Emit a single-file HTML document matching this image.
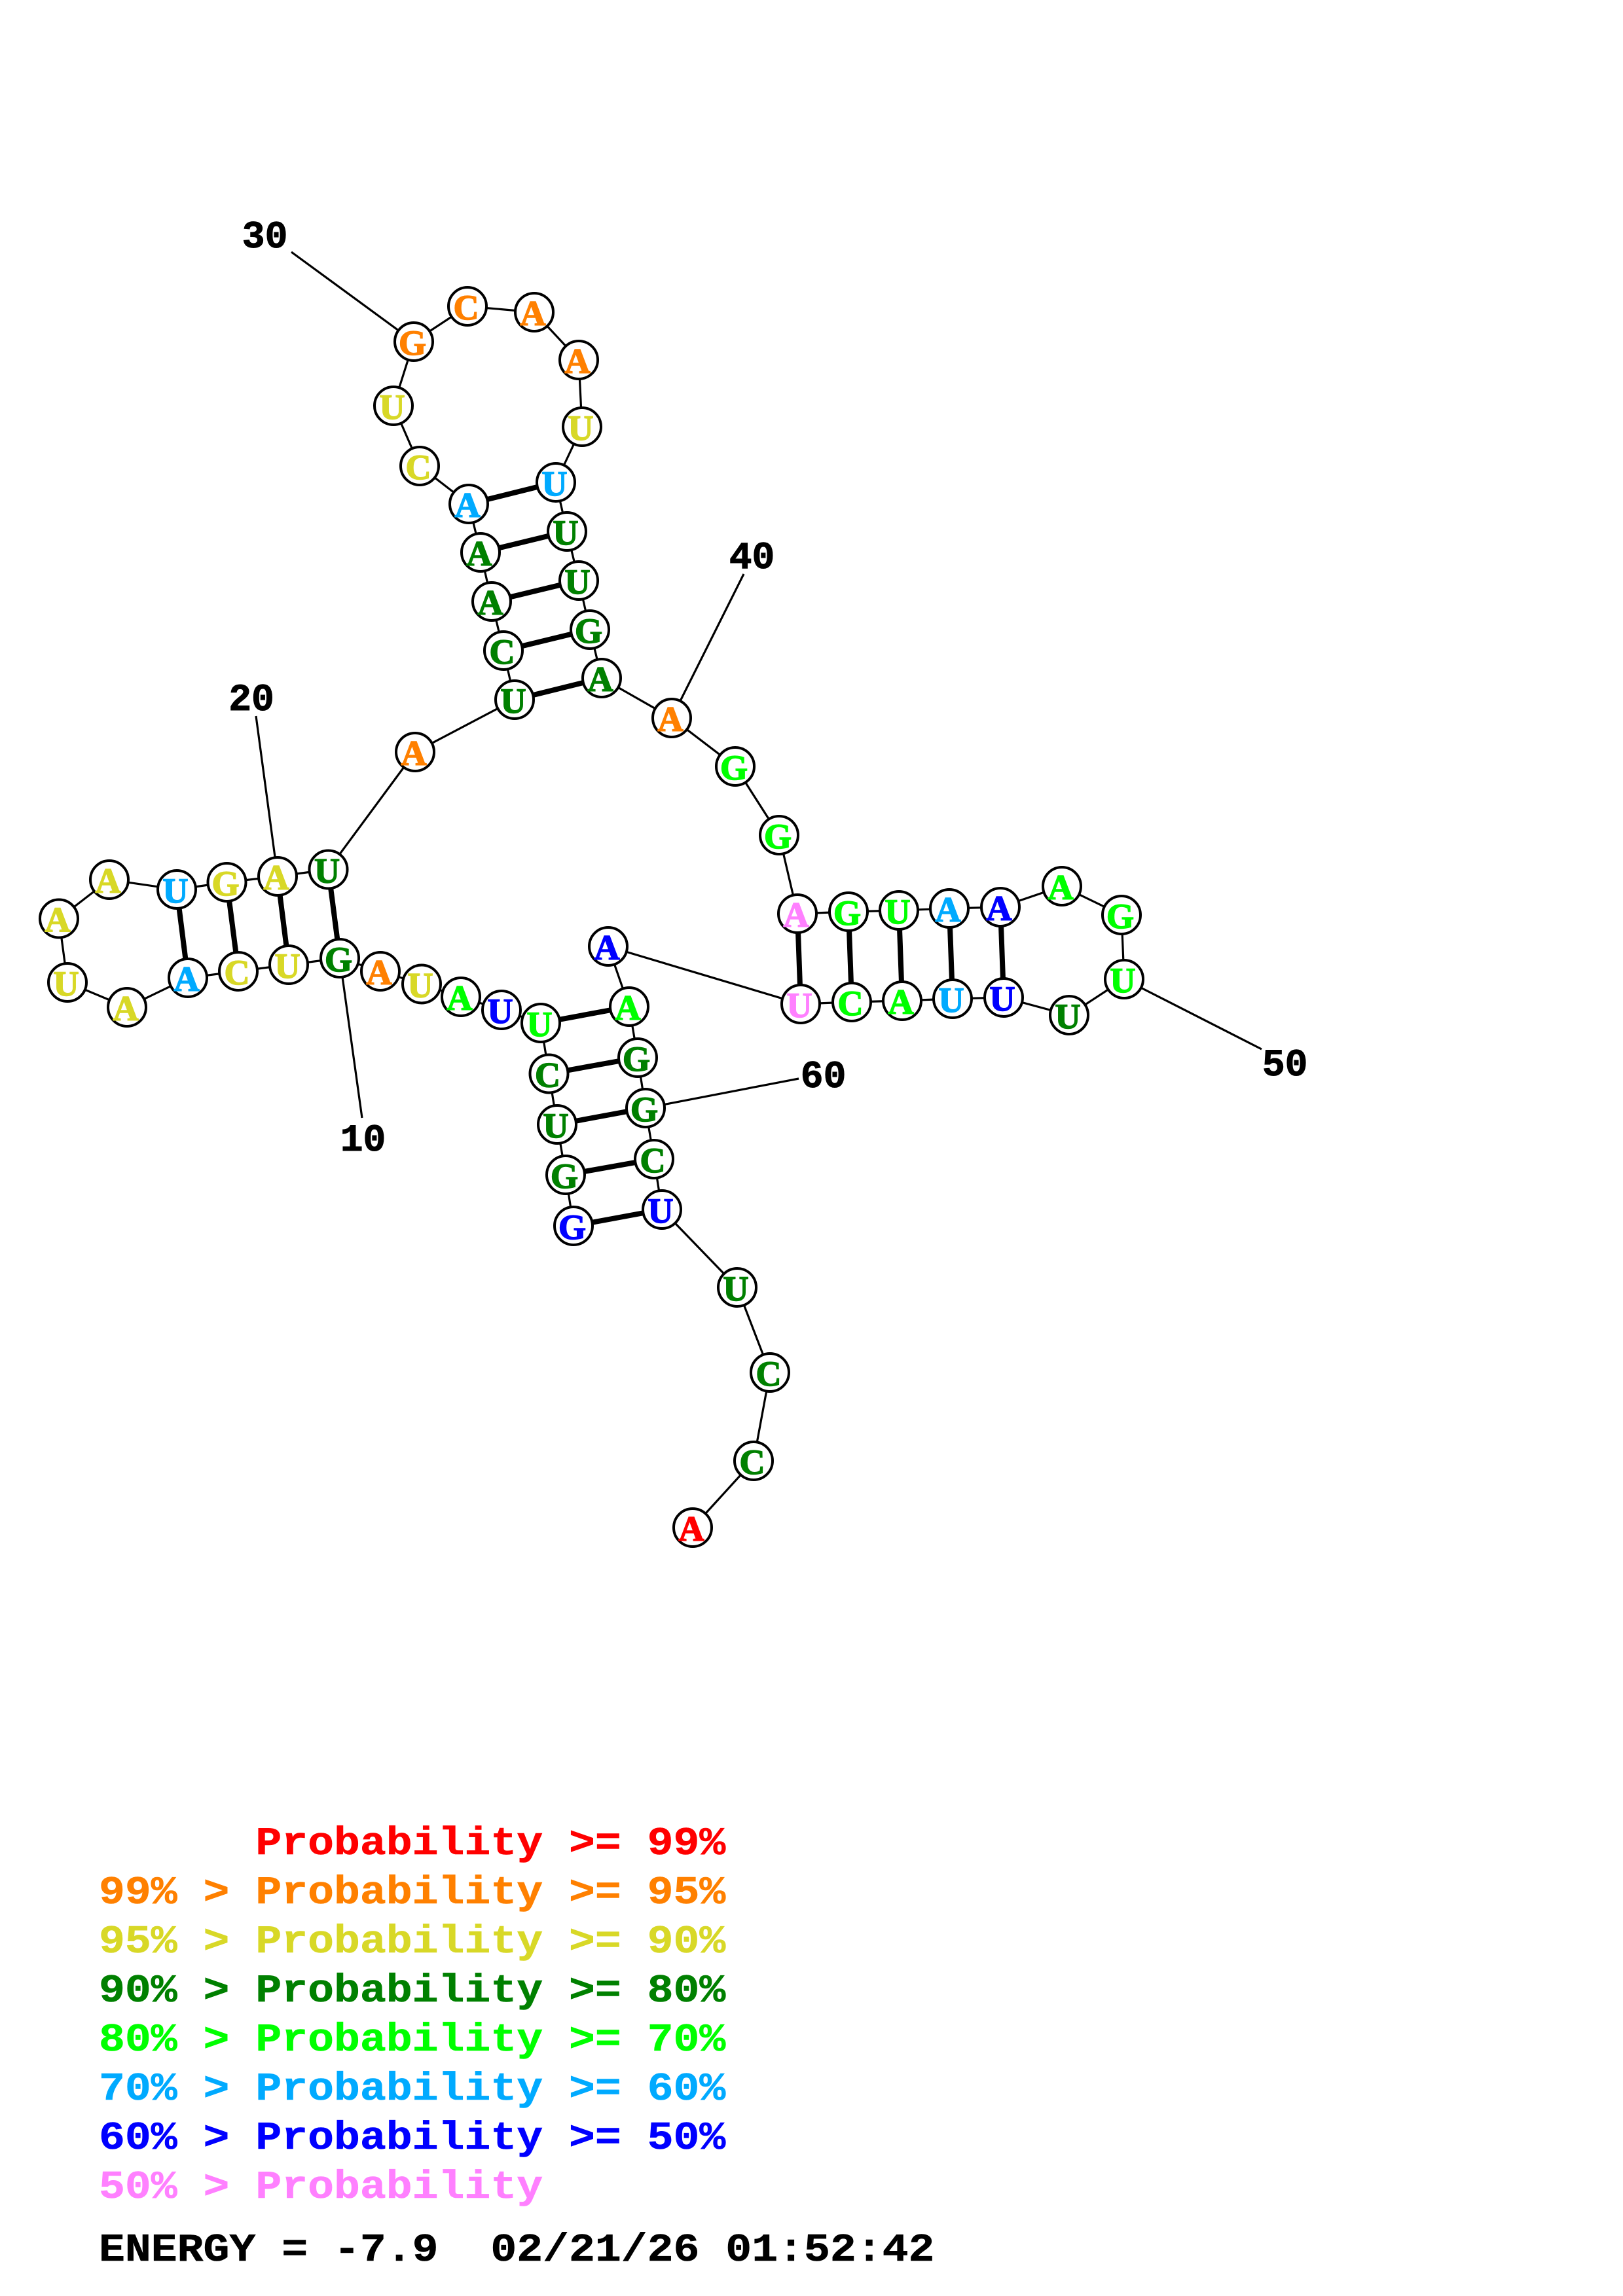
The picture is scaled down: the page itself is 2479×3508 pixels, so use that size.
<!DOCTYPE html>
<html><head><meta charset="utf-8"><title>RNA structure</title>
<style>
html,body{margin:0;padding:0;background:#fff;width:2479px;height:3508px;overflow:hidden}
svg{display:block}
.n text{font:bold 54px "Liberation Serif",serif;text-anchor:middle;stroke-width:1.6}
.l{font:bold 58px "Liberation Mono",monospace;text-anchor:middle;fill:#000;stroke:#000;stroke-width:1}
.g text{font:bold 60px "Liberation Mono",monospace;white-space:pre;stroke-width:.6}
.r{fill:#f00;stroke:#f00}.o{fill:#ff8000;stroke:#ff8000}.y{fill:#d8d827;stroke:#d8d827}.d{fill:#008000;stroke:#008000}.m{fill:#0f0;stroke:#0f0}.s{fill:#0af;stroke:#0af}.b{fill:#00f;stroke:#00f}.p{fill:#ff80ff;stroke:#ff80ff}.k{fill:#000;stroke:#000}
</style></head><body>
<svg xmlns="http://www.w3.org/2000/svg" width="2479" height="3508" viewBox="0 0 2479 3508">
<rect width="2479" height="3508" fill="#fff"/>
<polyline fill="none" stroke="#000" stroke-width="3.2" points="876,1873 864,1795 851,1718 838.5,1640.5 826,1563 766,1543 704,1523 644,1503.5 581,1484 519,1464 441,1474 364,1484 287,1494 194,1539 103,1501 90,1403.5 167,1344 270,1359 346.5,1348 424,1339 501.5,1328.5 634,1149 786,1069 769,994 751,919 734,844 716,770 641,712 601,620 632,522 714,468 816,477 884,550 889,652 849,737 866,812 884,887 901,962 919,1036 1026,1097 1123,1171 1190,1276 1218,1396 1296,1393 1373,1391 1450,1388 1528,1386 1622,1354 1713,1398 1717,1496 1633,1551 1533,1524 1455,1526 1378,1529 1301,1531 1223,1534 929,1446 961,1538 974,1616 986,1693 999,1771 1011,1848 1126,1967 1176,2097 1151,2232 1058,2334"/>
<g stroke="#000" stroke-width="3.2">
<line x1="445" y1="385" x2="632" y2="522"/>
<line x1="1136" y1="877" x2="1026" y2="1097"/>
<line x1="391" y1="1094" x2="424" y2="1339"/>
<line x1="553" y1="1708" x2="519" y2="1464"/>
<line x1="1927" y1="1603" x2="1717" y2="1496"/>
<line x1="1220" y1="1648" x2="986" y2="1693"/>
</g>
<g stroke="#000" stroke-width="8">
<line x1="716" y1="770" x2="849" y2="737"/>
<line x1="734" y1="844" x2="866" y2="812"/>
<line x1="751" y1="919" x2="884" y2="887"/>
<line x1="769" y1="994" x2="901" y2="962"/>
<line x1="786" y1="1069" x2="919" y2="1036"/>
<line x1="501.5" y1="1328.5" x2="519" y2="1464"/>
<line x1="424" y1="1339" x2="441" y2="1474"/>
<line x1="346.5" y1="1348" x2="364" y2="1484"/>
<line x1="270" y1="1359" x2="287" y2="1494"/>
<line x1="1218" y1="1396" x2="1223" y2="1534"/>
<line x1="1296" y1="1393" x2="1301" y2="1531"/>
<line x1="1373" y1="1391" x2="1378" y2="1529"/>
<line x1="1450" y1="1388" x2="1455" y2="1526"/>
<line x1="1528" y1="1386" x2="1533" y2="1524"/>
<line x1="826" y1="1563" x2="961" y2="1538"/>
<line x1="838.5" y1="1640.5" x2="974" y2="1616"/>
<line x1="851" y1="1718" x2="986" y2="1693"/>
<line x1="864" y1="1795" x2="999" y2="1771"/>
<line x1="876" y1="1873" x2="1011" y2="1848"/>
</g>
<g fill="#fff" stroke="#000" stroke-width="4">
<circle cx="876" cy="1873" r="29"/><circle cx="864" cy="1795" r="29"/><circle cx="851" cy="1718" r="29"/><circle cx="838.5" cy="1640.5" r="29"/><circle cx="826" cy="1563" r="29"/><circle cx="766" cy="1543" r="29"/><circle cx="704" cy="1523" r="29"/><circle cx="644" cy="1503.5" r="29"/><circle cx="581" cy="1484" r="29"/><circle cx="519" cy="1464" r="29"/><circle cx="441" cy="1474" r="29"/><circle cx="364" cy="1484" r="29"/><circle cx="287" cy="1494" r="29"/><circle cx="194" cy="1539" r="29"/><circle cx="103" cy="1501" r="29"/><circle cx="90" cy="1403.5" r="29"/><circle cx="167" cy="1344" r="29"/><circle cx="270" cy="1359" r="29"/><circle cx="346.5" cy="1348" r="29"/><circle cx="424" cy="1339" r="29"/><circle cx="501.5" cy="1328.5" r="29"/><circle cx="634" cy="1149" r="29"/><circle cx="786" cy="1069" r="29"/><circle cx="769" cy="994" r="29"/><circle cx="751" cy="919" r="29"/><circle cx="734" cy="844" r="29"/><circle cx="716" cy="770" r="29"/><circle cx="641" cy="712" r="29"/><circle cx="601" cy="620" r="29"/><circle cx="632" cy="522" r="29"/><circle cx="714" cy="468" r="29"/><circle cx="816" cy="477" r="29"/><circle cx="884" cy="550" r="29"/><circle cx="889" cy="652" r="29"/><circle cx="849" cy="737" r="29"/><circle cx="866" cy="812" r="29"/><circle cx="884" cy="887" r="29"/><circle cx="901" cy="962" r="29"/><circle cx="919" cy="1036" r="29"/><circle cx="1026" cy="1097" r="29"/><circle cx="1123" cy="1171" r="29"/><circle cx="1190" cy="1276" r="29"/><circle cx="1218" cy="1396" r="29"/><circle cx="1296" cy="1393" r="29"/><circle cx="1373" cy="1391" r="29"/><circle cx="1450" cy="1388" r="29"/><circle cx="1528" cy="1386" r="29"/><circle cx="1622" cy="1354" r="29"/><circle cx="1713" cy="1398" r="29"/><circle cx="1717" cy="1496" r="29"/><circle cx="1633" cy="1551" r="29"/><circle cx="1533" cy="1524" r="29"/><circle cx="1455" cy="1526" r="29"/><circle cx="1378" cy="1529" r="29"/><circle cx="1301" cy="1531" r="29"/><circle cx="1223" cy="1534" r="29"/><circle cx="929" cy="1446" r="29"/><circle cx="961" cy="1538" r="29"/><circle cx="974" cy="1616" r="29"/><circle cx="986" cy="1693" r="29"/><circle cx="999" cy="1771" r="29"/><circle cx="1011" cy="1848" r="29"/><circle cx="1126" cy="1967" r="29"/><circle cx="1176" cy="2097" r="29"/><circle cx="1151" cy="2232" r="29"/><circle cx="1058" cy="2334" r="29"/>
</g>
<g class="n">
<text x="874" y="1893" class="b">G</text><text x="862" y="1815" class="d">G</text><text x="849" y="1738" class="d">U</text><text x="836.5" y="1660.5" class="d">C</text><text x="824" y="1583" class="m">U</text><text x="764" y="1563" class="b">U</text><text x="702" y="1543" class="m">A</text><text x="642" y="1523.5" class="y">U</text><text x="579" y="1504" class="o">A</text><text x="517" y="1484" class="d">G</text><text x="439" y="1494" class="y">U</text><text x="362" y="1504" class="y">C</text><text x="285" y="1514" class="s">A</text><text x="192" y="1559" class="y">A</text><text x="101" y="1521" class="y">U</text><text x="88" y="1423.5" class="y">A</text><text x="165" y="1364" class="y">A</text><text x="268" y="1379" class="s">U</text><text x="344.5" y="1368" class="y">G</text><text x="422" y="1359" class="y">A</text><text x="499.5" y="1348.5" class="d">U</text><text x="632" y="1169" class="o">A</text><text x="784" y="1089" class="d">U</text><text x="767" y="1014" class="d">C</text><text x="749" y="939" class="d">A</text><text x="732" y="864" class="d">A</text><text x="714" y="790" class="s">A</text><text x="639" y="732" class="y">C</text><text x="599" y="640" class="y">U</text><text x="630" y="542" class="o">G</text><text x="712" y="488" class="o">C</text><text x="814" y="497" class="o">A</text><text x="882" y="570" class="o">A</text><text x="887" y="672" class="y">U</text><text x="847" y="757" class="s">U</text><text x="864" y="832" class="d">U</text><text x="882" y="907" class="d">U</text><text x="899" y="982" class="d">G</text><text x="917" y="1056" class="d">A</text><text x="1024" y="1117" class="o">A</text><text x="1121" y="1191" class="m">G</text><text x="1188" y="1296" class="m">G</text><text x="1216" y="1416" class="p">A</text><text x="1294" y="1413" class="m">G</text><text x="1371" y="1411" class="m">U</text><text x="1448" y="1408" class="s">A</text><text x="1526" y="1406" class="b">A</text><text x="1620" y="1374" class="m">A</text><text x="1711" y="1418" class="m">G</text><text x="1715" y="1516" class="m">U</text><text x="1631" y="1571" class="d">U</text><text x="1531" y="1544" class="b">U</text><text x="1453" y="1546" class="s">U</text><text x="1376" y="1549" class="m">A</text><text x="1299" y="1551" class="m">C</text><text x="1221" y="1554" class="p">U</text><text x="927" y="1466" class="b">A</text><text x="959" y="1558" class="m">A</text><text x="972" y="1636" class="d">G</text><text x="984" y="1713" class="d">G</text><text x="997" y="1791" class="d">C</text><text x="1009" y="1868" class="b">U</text><text x="1124" y="1987" class="d">U</text><text x="1174" y="2117" class="d">C</text><text x="1149" y="2252" class="d">C</text><text x="1056" y="2354" class="r">A</text>
</g>
<text class="l" x="404.6" y="378">30</text>
<text class="l" x="1148.5" y="868">40</text>
<text class="l" x="384" y="1085">20</text>
<text class="l" x="554.5" y="1758">10</text>
<text class="l" x="1962.7" y="1643">50</text>
<text class="l" x="1257.6" y="1661">60</text>
<g class="g" transform="translate(151,0) scale(1.108,1)">
<text xml:space="preserve" y="2833" class="r">      Probability &gt;= 99%</text>
<text xml:space="preserve" y="2908" class="o">99% &gt; Probability &gt;= 95%</text>
<text xml:space="preserve" y="2983" class="y">95% &gt; Probability &gt;= 90%</text>
<text xml:space="preserve" y="3058" class="d">90% &gt; Probability &gt;= 80%</text>
<text xml:space="preserve" y="3133" class="m">80% &gt; Probability &gt;= 70%</text>
<text xml:space="preserve" y="3208" class="s">70% &gt; Probability &gt;= 60%</text>
<text xml:space="preserve" y="3283" class="b">60% &gt; Probability &gt;= 50%</text>
<text xml:space="preserve" y="3358" class="p">50% &gt; Probability</text>
<text xml:space="preserve" y="3454" class="k">ENERGY = -7.9  02/21/26 01:52:42</text>
</g>
</svg>
</body></html>
